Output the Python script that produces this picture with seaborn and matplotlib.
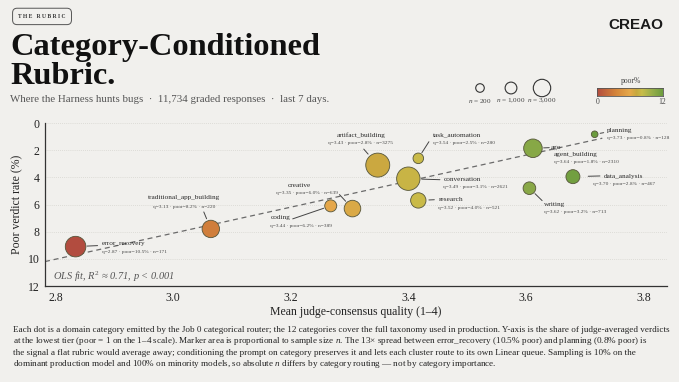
import numpy as np
import pandas as pd
import matplotlib
import matplotlib.pyplot as plt
from matplotlib.colors import LinearSegmentedColormap
import seaborn as sns

# 数据：类别、绘制位置（读取自图）、标签文字
categories = ['error_recovery', 'traditional_app_building', 'creative', 'coding',
              'artifact_building', 'task_automation', 'conversation', 'research',
              'writing', 'agent_building', 'data_analysis', 'planning']
quality = [2.834, 3.064, 3.305, 3.268, 3.348, 3.417, 3.400, 3.417, 3.606, 3.612, 3.680, 3.717]
poor_rate = [9.1, 7.8, 6.3, 6.1, 3.1, 2.6, 4.1, 5.7, 4.8, 1.86, 3.95, 0.83]
bubble = [106, 76, 69, 36, 144, 28, 137, 59, 40, 86, 49, 11]

label_q = [2.87, 3.13, 3.35, 3.44, 3.43, 3.54, 3.49, 3.52, 3.62, 3.64, 3.70, 3.73]
label_poor = [10.5, 8.2, 6.0, 6.2, 2.8, 2.5, 3.1, 4.0, 3.2, 1.8, 2.8, 0.8]
label_n = [171, 220, 639, 389, 3275, 280, 2621, 521, 713, 2310, 467, 128]

ols_x = [2.782, 3.73]
ols_y = [10.2, 1.12]

legend_n = [200, 1000, 3000]
legend_s = [38, 82, 157]

df = pd.DataFrame({'category': categories, 'quality': quality,
                   'poor': poor_rate, 'bubble': bubble})

# 样式
sns.set_theme(style='white')
bg = '#f1f0ed'
plt.rcParams['font.family'] = ['Liberation Serif', 'DejaVu Serif']
plt.rcParams['mathtext.fontset'] = 'custom'
plt.rcParams['mathtext.rm'] = 'Liberation Serif'
plt.rcParams['mathtext.it'] = 'Liberation Serif:italic'
plt.rcParams['figure.facecolor'] = bg
plt.rcParams['axes.facecolor'] = bg

cmap = LinearSegmentedColormap.from_list('poor', [
    (0.0, '#b24c3f'), (0.28, '#d4843a'), (0.5, '#e6a94a'), (0.6, '#c6a83e'),
    (0.68, '#c9bd4a'), (0.85, '#93ad4a'), (1.0, '#6c9c3e')])

fig = plt.figure(figsize=(6.79, 3.82), dpi=100)
ax = fig.add_axes([0.0663, 0.2513, 0.916, 0.4267])

# 网格线
for yv in range(0, 13, 2):
    ax.axhline(yv, color='#d6d5d0', lw=0.6, ls=(0, (1, 1.5)), zorder=0)

# 回归线
sns.lineplot(x=ols_x, y=ols_y, ax=ax, color='#6a6a6a', lw=0.9,
             linestyle=(0, (4, 3)), zorder=1)

sns.scatterplot(data=df, x='quality', y='poor', hue='quality', palette=cmap,
                hue_norm=(2.85, 3.70), size='bubble', sizes=(11 * 2.07, 144 * 2.07),
                size_norm=(11, 144), edgecolor='#55553a', linewidth=0.6,
                legend=False, ax=ax, zorder=3)

ax.set_xlim(2.782, 3.84)
ax.set_ylim(12, 0)
ax.set_xticks([2.8, 3.0, 3.2, 3.4, 3.6, 3.8])
ax.set_xticklabels(['2.8', '3.0', '3.2', '3.4', '3.6', '3.8'])
ax.set_yticks(range(0, 13, 2))
ax.tick_params(axis='both', labelsize=8.5, colors='#333333', length=3, width=0.7,
               direction='out', pad=1)
ax.tick_params(axis='both', labelcolor='#222222')
for s in ['top', 'right']:
    ax.spines[s].set_visible(False)
for s in ['left', 'bottom']:
    ax.spines[s].set_color('#333333')
    ax.spines[s].set_linewidth(0.9)
ax.set_xlabel('Mean judge-consensus quality (1–4)', fontsize=8.5, color='#222222', labelpad=2)
ax.set_ylabel('Poor verdict rate (%)', fontsize=8.5, color='#222222', labelpad=4)

# 标签布局（像素偏移）：名称、细节、引线
layout = {
    'error_recovery': ((26, 3, 'left'), (26, -5, 'left'), (22, 1), 11.5),
    'traditional_app_building': ((-27, 31, 'center'), (-27, 22, 'center'), (-7, 17), 11),
    'creative': ((-53, 23, 'center'), (-46, 16, 'center'), (-13, 14), 10),
    'coding': ((-60, -12, 'left'), (-61, -20, 'left'), (-38, -13), 7.3),
    'artifact_building': ((-17, 30, 'center'), (-17, 22, 'center'), (-14, 16), 14.6),
    'task_automation': ((15, 23, 'left'), (15, 15, 'left'), (10.6, 16.6), 6.6),
    'conversation': ((35, -1, 'left'), (35, -8, 'left'), (31.6, -1), 13.4),
    'research': ((20, 1, 'left'), (20, -7.5, 'left'), (16, 0.7), 10.6),
    'writing': ((15, -16, 'left'), (15, -24, 'left'), (12.7, -12.4), 7.8),
    'agent_building': ((21, -6, 'left'), (21, -13.5, 'left'), (16.3, 0.6), 10.7),
    'data_analysis': ((31, 0, 'left'), (20, -7.5, 'left'), (27, 0.7), 15.3),
    'planning': ((12, 3.6, 'left'), (12, -4, 'left'), (9, 1.6), 5.6),
}

for i, cat in enumerate(categories):
    (nx, ny, nha), (dx, dy, dha), (lx, ly), gap = layout[cat]
    xy = (quality[i], poor_rate[i])
    ax.annotate(cat, xy=xy, xytext=(nx, ny), textcoords='offset pixels',
                fontsize=5.2, color='#2a2a2a', ha=nha, va='center', zorder=5)
    detail = f'q={label_q[i]:.2f} · poor={label_poor[i]:.1f}% · n={label_n[i]}'
    ax.annotate(detail, xy=xy, xytext=(dx, dy), textcoords='offset pixels',
                fontsize=3.9, color='#4a4a4a', ha=dha, va='center', zorder=5)
    ax.annotate('', xy=xy, xytext=(lx, ly), textcoords='offset pixels',
                arrowprops=dict(arrowstyle='-', color='#444444', lw=0.7,
                                shrinkA=0, shrinkB=gap * 0.72), zorder=4)
    if cat == 'agent_building':
        ax.annotate('ago', xy=xy, xytext=(18, 0.6), textcoords='offset pixels',
                    fontsize=5.2, color='#2a2a2a', ha='left', va='center', zorder=5)

ax.text(0.013, 0.055, r'OLS fit, $R^2$ ≈ 0.71, $p$ < 0.001', transform=ax.transAxes,
        fontsize=7.5, style='italic', color='#555555', ha='left', va='center')

# 标题区
fig.text(0.0619, 0.957, 'T H E   R U B R I C', fontsize=4.1, weight='bold', color='#333333',
         ha='center', va='center',
         bbox=dict(boxstyle='round,pad=1.0,rounding_size=0.8', fc=bg, ec='#555555', lw=0.7))
fig.text(0.0147, 1 - 55 / 382, 'Category-Conditioned', fontsize=23.3, weight='bold',
         color='#111111', ha='left', va='baseline')
fig.text(0.0147, 1 - 83.5 / 382, 'Rubric.', fontsize=23.3, weight='bold',
         color='#111111', ha='left', va='baseline')
fig.text(0.0147, 1 - 101.5 / 382,
         'Where the Harness hunts bugs  ·  11,734 graded responses  ·  last 7 days.',
         fontsize=7.8, color='#555555', ha='left', va='baseline')
fig.text(0.937, 0.935, 'CREAO', fontsize=11, weight='bold', color='#1a1a1a',
         family=['Liberation Sans', 'DejaVu Sans'], ha='center', va='center')

# 尺寸图例
lax = fig.add_axes([0, 0, 1, 1], facecolor='none')
lax.set_xlim(0, 679)
lax.set_ylim(382, 0)
lax.axis('off')
leg_x = [480, 511, 542]
sns.scatterplot(x=leg_x, y=[88, 88, 88], size=legend_n, sizes=(legend_s[0], legend_s[-1]),
                size_norm=(legend_n[0], legend_n[-1]), facecolor='none', edgecolor='#333333',
                linewidth=0.8, legend=False, ax=lax)
for xx, n in zip(leg_x, legend_n):
    lax.text(xx, 101, f'$n$ = {n:,}', fontsize=5.2, color='#444444', ha='center', va='center')

# 颜色条
cax = fig.add_axes([597 / 679, 1 - 96 / 382, 66 / 679, 8 / 382])
cax.imshow(np.linspace(0, 1, 256)[None, :], aspect='auto', cmap=cmap)
cax.set_xticks([])
cax.set_yticks([])
for s in cax.spines.values():
    s.set_color('#555555')
    s.set_linewidth(0.6)
lax.text(631, 81, 'poor%', fontsize=5.5, color='#444444', ha='center', va='center')
lax.text(598, 101.5, '0', fontsize=5.5, color='#444444', ha='center', va='center')
lax.text(662, 101.5, '12', fontsize=5.5, color='#444444', ha='center', va='center')

# 说明文字
caption = [
    'Each dot is a domain category emitted by the Job 0 categorical router; the 12 categories cover the full taxonomy used in production. Y-axis is the share of judge-averaged verdicts',
    'at the lowest tier (poor = 1 on the 1–4 scale). Marker area is proportional to sample size $n$. The 13× spread between error_recovery (10.5% poor) and planning (0.8% poor) is',
    'the signal a flat rubric would average away; conditioning the prompt on category preserves it and lets each cluster route to its own Linear queue. Sampling is 10% on the',
    'dominant production model and 100% on minority models, so absolute $n$ differs by category routing — not by category importance.',
]
for k, line in enumerate(caption):
    lax.text(13, 330 + k * 11.3, line, fontsize=6.55, color='#222222', ha='left', va='center')

plt.savefig('out.png', dpi=100, facecolor=bg)
